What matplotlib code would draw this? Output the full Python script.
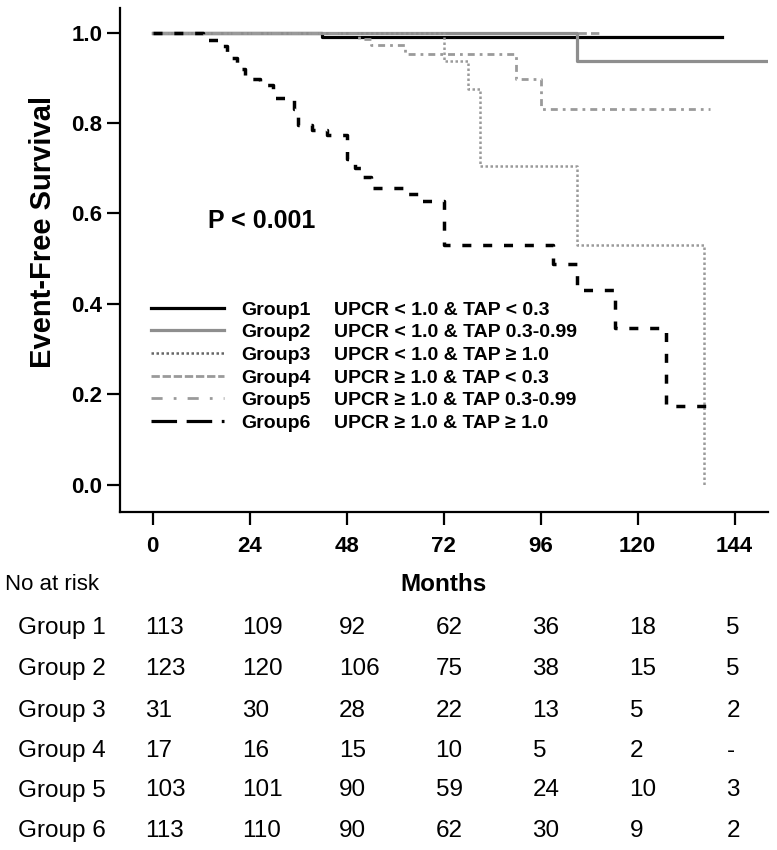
import matplotlib
matplotlib.use("Agg")
import matplotlib.pyplot as plt
import matplotlib.transforms as mtransforms
from matplotlib.lines import Line2D

plt.rcParams['font.family'] = ['Liberation Sans', 'DejaVu Sans']

# survival curves (months, event-free survival)
g1_t = [0, 42, 141]
g1_s = [1.0, 0.989, 0.989]
g2_t = [0, 105, 152]
g2_s = [1.0, 0.937, 0.937]
g3_t = [0, 72, 78, 81, 105, 136.5]
g3_s = [1.0, 0.938, 0.875, 0.705, 0.531, 0.0]
g4_t = [0, 111]
g4_s = [1.0, 1.0]
g5_t = [0, 51, 54, 62.5, 90, 96, 138]
g5_s = [1.0, 0.985, 0.973, 0.953, 0.898, 0.830, 0.830]
g6_t = [0, 12.4, 16.6, 18.3, 20.8, 22.8, 26.5, 29.7, 35, 36, 39.5, 43, 48, 50,
        52, 54, 62, 66, 72, 99, 105, 114.4, 127, 138.5]
g6_s = [1.0, 0.984, 0.97, 0.944, 0.92, 0.897, 0.885, 0.855, 0.83, 0.796, 0.785,
        0.774, 0.72, 0.70, 0.68, 0.655, 0.643, 0.627, 0.531, 0.487, 0.431,
        0.347, 0.173, 0.173]

group_names = ['Group1', 'Group2', 'Group3', 'Group4', 'Group5', 'Group6']
group_desc = ['UPCR < 1.0 & TAP < 0.3', 'UPCR < 1.0 & TAP 0.3-0.99',
              'UPCR < 1.0 & TAP \u2265 1.0', 'UPCR \u2265 1.0 & TAP < 0.3',
              'UPCR \u2265 1.0 & TAP 0.3-0.99', 'UPCR \u2265 1.0 & TAP \u2265 1.0']

x_ticks = [0, 24, 48, 72, 96, 120, 144]
y_ticks = [0.0, 0.2, 0.4, 0.6, 0.8, 1.0]

risk_labels = ['Group 1', 'Group 2', 'Group 3', 'Group 4', 'Group 5', 'Group 6']
risk_g1 = ['113', '109', '92', '62', '36', '18', '5']
risk_g2 = ['123', '120', '106', '75', '38', '15', '5']
risk_g3 = ['31', '30', '28', '22', '13', '5', '2']
risk_g4 = ['17', '16', '15', '10', '5', '2', '-']
risk_g5 = ['103', '101', '90', '59', '24', '10', '3']
risk_g6 = ['113', '110', '90', '62', '30', '9', '2']

black = '#000000'
gray = '#8e8e8e'
lgray = '#9a9a9a'

fig = plt.figure(figsize=(7.77, 8.5), dpi=100)
ax = fig.add_axes([0.154, 0.398, 0.834, 0.593])

ax.plot(g1_t, g1_s, drawstyle='steps-post', color=black, lw=2.3, zorder=2)
ax.plot(g4_t, g4_s, drawstyle='steps-post', color=lgray, lw=2.0,
        dashes=(3, 1.5), zorder=2)
ax.plot(g2_t, g2_s, drawstyle='steps-post', color=gray, lw=2.3, zorder=3)
ax.plot(g5_t, g5_s, drawstyle='steps-post', color=lgray, lw=2.0,
        dashes=(2.5, 1.8, 1, 1.8), zorder=3)
ax.plot(g3_t, g3_s, drawstyle='steps-post', color=lgray, lw=1.8,
        dashes=(1, 1), zorder=3)
ax.plot(g6_t, g6_s, drawstyle='steps-post', color=black, lw=2.5,
        dashes=(2.6, 3.4), zorder=4)

ax.set_xlim(-8.2, 152.2)
ax.set_ylim(-0.06, 1.055)
ax.set_xticks(x_ticks)
ax.set_yticks(y_ticks)
ax.set_yticklabels(['%.1f' % v for v in y_ticks])
ax.spines['top'].set_visible(False)
ax.spines['right'].set_visible(False)
ax.spines['left'].set_linewidth(1.6)
ax.spines['bottom'].set_linewidth(1.6)
ax.tick_params(direction='out', length=9.5, width=1.6, labelsize=16)
ax.tick_params(axis='x', pad=8)
ax.tick_params(axis='y', pad=3)
for lab in ax.get_xticklabels() + ax.get_yticklabels():
    lab.set_fontweight('bold')

ax.set_ylabel('Event-Free Survival', fontsize=21, fontweight='bold')
ax.yaxis.set_label_coords(-0.097, 0.556)

ax.text(13.6, 0.582, 'P < 0.001', fontsize=18, fontweight='bold',
        va='center', ha='left')

# legend: line + group name, then descriptions in a second column
handles = [
    Line2D([], [], color=black, lw=2.3),
    Line2D([], [], color=gray, lw=2.3),
    Line2D([], [], color='#666666', lw=1.8, dashes=(1, 1)),
    Line2D([], [], color=lgray, lw=2.0, dashes=(3, 1)),
    Line2D([], [], color=lgray, lw=2.0, dashes=(4, 4, 1, 4)),
    Line2D([], [], color=black, lw=2.3, dashes=(8, 3)),
]
leg_font = {'size': 14, 'weight': 'bold'}
leg1 = ax.legend(handles, group_names, loc='upper left',
                 bbox_to_anchor=(0.049, 0.418), frameon=False, borderpad=0,
                 borderaxespad=0, handlelength=3.75, handletextpad=0.85,
                 labelspacing=0.26, prop=leg_font)
ax.add_artist(leg1)
blank = [Line2D([], [], alpha=0) for _ in group_desc]
ax.legend(blank, group_desc, loc='upper left',
          bbox_to_anchor=(0.33, 0.418), frameon=False, borderpad=0,
          borderaxespad=0, handlelength=0, handletextpad=0,
          labelspacing=0.26, prop=leg_font)

# number at risk table
trans = mtransforms.blended_transform_factory(ax.transData, fig.transFigure)
fig.text(0.006, 0.312, 'No at risk', fontsize=16, va='center', ha='left')
ax.text(72, 0.312, 'Months', fontsize=17.5, fontweight='bold', va='center',
        ha='center', transform=trans)
rows = [risk_g1, risk_g2, risk_g3, risk_g4, risk_g5, risk_g6]
row_y = [0.261, 0.213, 0.164, 0.117, 0.070, 0.022]
for label, vals, yy in zip(risk_labels, rows, row_y):
    fig.text(0.023, yy, label, fontsize=17.5, va='center', ha='left')
    for t, v in zip(x_ticks, vals):
        ax.text(t - 2, yy, v, fontsize=17.5, va='center', ha='left',
                transform=trans)

fig.savefig('out.png', dpi=100)
